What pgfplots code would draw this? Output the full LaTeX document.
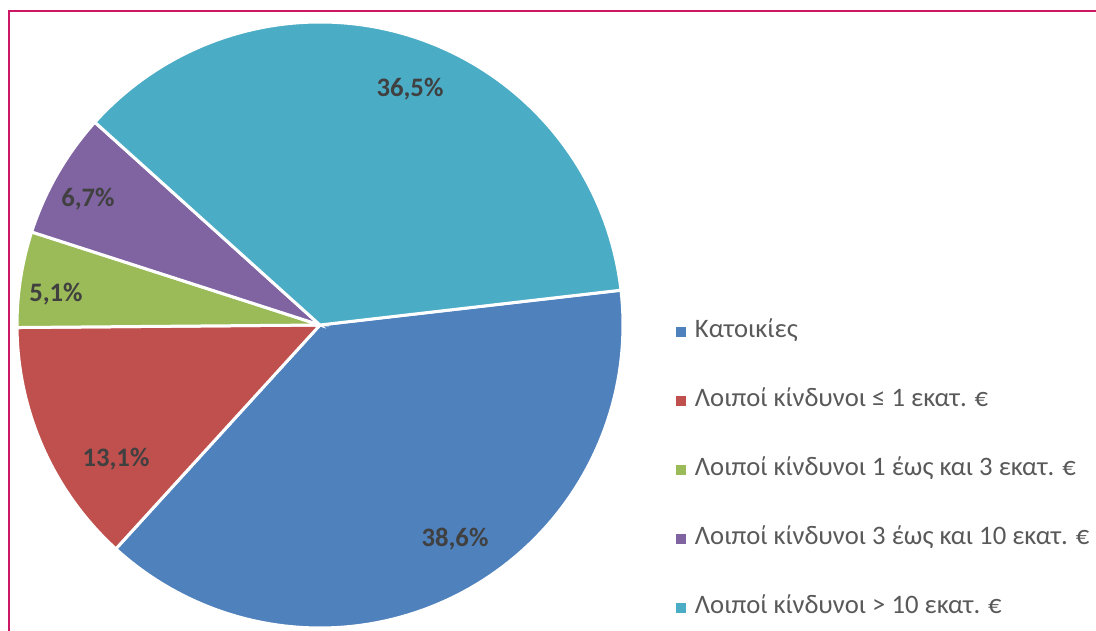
\documentclass[border=0pt]{standalone}
\usepackage{pgfplots}
\pgfplotsset{compat=1.18}
\usepackage{fontspec}
\setmainfont{Carlito}
\definecolor{cBlue}{RGB}{79,129,189}
\definecolor{cRed}{RGB}{192,80,77}
\definecolor{cGreen}{RGB}{155,187,89}
\definecolor{cPurple}{RGB}{128,100,162}
\definecolor{cCyan}{RGB}{75,172,198}
\definecolor{lbl}{RGB}{64,64,64}
\definecolor{legtxt}{RGB}{89,89,89}
\definecolor{frame}{RGB}{204,24,100}
\begin{document}
\begin{tikzpicture}
% pie geometry in pixel units
\def\cx{320}\def\cy{325}\def\R{303}
% shares (%)
\def\vA{38.6}\def\vB{13.1}\def\vC{5.1}\def\vD{6.7}\def\vE{36.5}
\pgfmathsetmacro\aA{6.6}
\pgfmathsetmacro\aB{\aA-\vA*3.6}
\pgfmathsetmacro\aC{\aB-\vB*3.6}
\pgfmathsetmacro\aD{\aC-\vC*3.6}
\pgfmathsetmacro\aE{\aD-\vD*3.6}
\pgfmathsetmacro\aF{\aE-\vE*3.6}
\begin{axis}[
  x=0.75pt, y=0.75pt,
  xmin=0, xmax=1096, ymin=0, ymax=631,
  y dir=reverse,
  hide axis, scale only axis, clip=false,
  legend image code/.code={\fill[#1, draw=none] (0pt,-3.75pt) rectangle (7.5pt,3.75pt);},
  legend cell align=left,
  legend style={
    at={(axis cs:676,320)}, anchor=north west,
    draw=none, fill=none, inner sep=0pt,
    font=\fontsize{20}{24}\selectfont\color{legtxt},
    row sep=34.75pt,
    nodes={inner xsep=6.5pt, inner ysep=0pt, text height=13pt, text depth=4pt},
  },
]
\addplot[fill=cBlue, draw=white, line width=2.25pt, domain=\aB:\aA, samples=90, variable=\t]
  ({\cx+\R*cos(\t)},{\cy-\R*sin(\t)}) -- (axis cs:\cx,\cy) -- cycle;
\addlegendentry{Κατοικίες}
\addplot[fill=cRed, draw=white, line width=2.25pt, domain=\aC:\aB, samples=40, variable=\t]
  ({\cx+\R*cos(\t)},{\cy-\R*sin(\t)}) -- (axis cs:\cx,\cy) -- cycle;
\addlegendentry{Λοιποί κίνδυνοι ≤ 1 εκατ. €}
\addplot[fill=cGreen, draw=white, line width=2.25pt, domain=\aD:\aC, samples=20, variable=\t]
  ({\cx+\R*cos(\t)},{\cy-\R*sin(\t)}) -- (axis cs:\cx,\cy) -- cycle;
\addlegendentry{Λοιποί κίνδυνοι 1 έως και 3 εκατ. €}
\addplot[fill=cPurple, draw=white, line width=2.25pt, domain=\aE:\aD, samples=25, variable=\t]
  ({\cx+\R*cos(\t)},{\cy-\R*sin(\t)}) -- (axis cs:\cx,\cy) -- cycle;
\addlegendentry{Λοιποί κίνδυνοι 3 έως και 10 εκατ. €}
\addplot[fill=cCyan, draw=white, line width=2.25pt, domain=\aF:\aE, samples=90, variable=\t]
  ({\cx+\R*cos(\t)},{\cy-\R*sin(\t)}) -- (axis cs:\cx,\cy) -- cycle;
\addlegendentry{Λοιποί κίνδυνοι > 10 εκατ. €}
% frame
\addplot[draw=frame, line width=1.5pt, forget plot] coordinates {(8.5,700) (8.5,11.5) (1200,11.5)};
% data labels
\begin{scope}[every node/.style={font=\bfseries\fontsize{20}{24}\selectfont, text=lbl}]
\node at (axis cs:410,89) {36,5\%};
\node at (axis cs:88,199) {6,7\%};
\node at (axis cs:56,294) {5,1\%};
\node at (axis cs:116,459) {13,1\%};
\node at (axis cs:455,539) {38,6\%};
\end{scope}
\end{axis}
\pgfresetboundingbox
\path (current axis.south west) rectangle (current axis.north east);
\end{tikzpicture}
\end{document}
